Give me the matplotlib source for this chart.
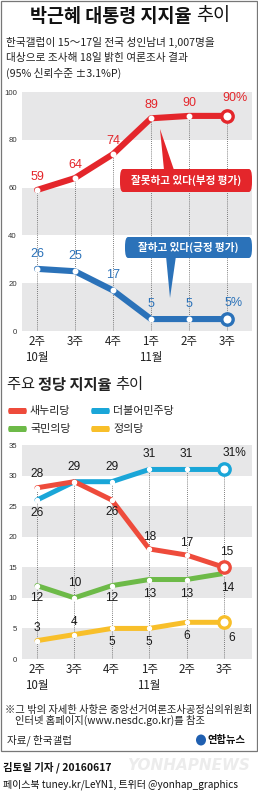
import matplotlib
matplotlib.use("Agg")
import matplotlib.pyplot as plt
from matplotlib.patches import FancyBboxPatch, Polygon, Rectangle, Ellipse

plt.rcParams['font.family'] = ['Noto Sans CJK KR', 'DejaVu Sans']

# ---------------- data ----------------
weeks = ["2주", "3주", "4주", "1주", "2주", "3주"]
months = {0: "10월", 3: "11월"}
negative = [59, 64, 74, 89, 90, 90]
positive = [26, 25, 17, 5, 5, 5]

parties = ["새누리당", "더불어민주당", "국민의당", "정의당"]
saenuri = [28, 29, 26, 18, 17, 15]
minjoo = [26, 29, 29, 31, 31, 31]
kukmin = [12, 10, 12, 13, 13, 14]
justice = [3, 4, 5, 5, 6, 6]

W, H = 258, 794
fig = plt.figure(figsize=(W / 100, H / 100), dpi=100)
renderer = fig.canvas.get_renderer()

def fx(x):
    return x / W

def fy(y):
    return 1 - y / H

def pt(px):
    return px * 0.72

RED = "#e4262b"
BLUE = "#2b72b9"
C_SAE = "#ee4b3b"
C_MIN = "#1aa6d8"
C_KUK = "#6dba48"
C_JUS = "#f8bf2a"
GRAY = "#e7e7e8"
TXT = "#222222"
NUMFONT = ['Liberation Sans', 'Noto Sans CJK KR']


def seq_text(x_px, y_px, parts, fontsize, color="#111111"):
    """Place text segments one after another starting at x_px."""
    x = x_px
    for s, weight in parts:
        t = fig.text(fx(x), fy(y_px), s, ha="left", va="center",
                     fontsize=fontsize, fontweight=weight, color=color)
        bb = t.get_window_extent(renderer)
        x += bb.width


# border
fig.add_artist(Rectangle((fx(1), fy(751)), fx(256), (751 - 0.5) / H,
                         transform=fig.transFigure, fill=False,
                         edgecolor="#777777", linewidth=0.9))

# titles
seq_text(30, 16, [("박근혜 대통령 지지율 ", "bold"), ("추이", "normal")], 13.3)
subs = ["한국갤럽이 15～17일 전국 성인남녀 1,007명을",
        "대상으로 조사해 18일 밝힌 여론조사 결과",
        "(95% 신뢰수준 ±3.1%P)"]
for i, s in enumerate(subs):
    fig.text(fx(6), fy(42 + i * 15.5), s, ha="left", va="center",
             fontsize=7.7, color=TXT)


def setup_axes(ax, ymax, step, bands, x0px, spacing):
    ax.set_ylim(0, ymax)
    left = -(x0px - 22) / spacing
    right = 5 + (252 - (x0px + 5 * spacing)) / spacing
    ax.set_xlim(left, right)
    for lo, hi in bands:
        ax.axhspan(lo, hi, color=GRAY, lw=0, zorder=0)
    for s in ax.spines.values():
        s.set_visible(False)
    ax.set_yticks(range(0, ymax + 1, step))
    ax.set_yticklabels([str(v) for v in range(0, ymax + 1, step)],
                       fontsize=5.6, color="#333333", family=NUMFONT)
    ax.tick_params(axis="y", length=0, pad=pt(5))
    ax.set_xticks(range(6))
    ax.set_xticklabels(weeks, fontsize=8.3, color=TXT)
    ax.tick_params(axis="x", length=0, pad=pt(4))
    for i, m in months.items():
        ax.annotate(m, xy=(i, 0), xycoords=("data", "axes fraction"),
                    xytext=(0, -pt(26)), textcoords="offset points",
                    ha="center", va="center", fontsize=8.3, color=TXT)
    ax.set_facecolor("none")


def draw_line(ax, vals, color, lw, ms_small, big_end=True):
    xs = list(range(len(vals)))
    ax.plot(xs, vals, color=color, lw=lw, solid_capstyle="round",
            solid_joinstyle="round", zorder=3)
    ax.plot(xs[:-1] if big_end else xs, vals[:-1] if big_end else vals,
            ls="none", marker="o", ms=ms_small, mfc="white", mec="white",
            zorder=4)
    if big_end:
        ax.plot([xs[-1]], [vals[-1]], ls="none", marker="o", ms=8.2,
                mfc="white", mec=color, mew=2.4, zorder=5)


def label(ax, i, v, text, dy_px, color, dx_px=0, fs=9):
    ax.annotate(text, xy=(i, v), xytext=(pt(dx_px), pt(-dy_px)),
                textcoords="offset points", ha="center", va="center",
                fontsize=fs, color=color, family=NUMFONT, zorder=6)


# ---------------- top chart ----------------
ax1 = fig.add_axes([fx(22), fy(331), fx(230), 239 / H])
setup_axes(ax1, 100, 20, [(0, 20), (40, 60), (80, 100)], 37, 38)
for i, v in enumerate(negative):
    ax1.plot([i, i], [0, v], ls=(0, (1, 1.5)), color="#555555", lw=0.6, zorder=1)
draw_line(ax1, negative, RED, 4.4, 3.2)
draw_line(ax1, positive, BLUE, 4.4, 3.2)
for i, v in enumerate(negative):
    if i == 5:
        label(ax1, i, v, f"{v}%", -18, RED, dx_px=8)
    else:
        label(ax1, i, v, str(v), -13, RED)
for i, v in enumerate(positive):
    if i == 5:
        label(ax1, i, v, f"{v}%", -16, BLUE, dx_px=7)
    else:
        label(ax1, i, v, str(v), -15, BLUE)

# callouts
def callout(x0, y0, x1, y1, tip, base, color, text):
    fig.add_artist(FancyBboxPatch((fx(x0), fy(y1)), fx(x1 - x0), (y1 - y0) / H,
                                  boxstyle="round,pad=0,rounding_size=0.012",
                                  transform=fig.transFigure, facecolor=color,
                                  edgecolor="none", zorder=7))
    fig.add_artist(Polygon([(fx(tip[0]), fy(tip[1])),
                            (fx(base[0]), fy(base[2])),
                            (fx(base[1]), fy(base[2]))],
                           closed=True, transform=fig.transFigure,
                           facecolor=color, edgecolor="none", zorder=7))
    fig.text(fx((x0 + x1) / 2), fy((y0 + y1) / 2), text, ha="center",
             va="center", fontsize=7.6, fontweight="bold", color="white",
             zorder=8)

callout(120, 169, 252, 192, (160, 129), (164, 174, 170), RED,
        "잘못하고 있다(부정 평가)")
callout(125, 237, 252, 258, (170, 298), (166, 176, 256), BLUE,
        "잘하고 있다(긍정 평가)")

# ---------------- second title + legend ----------------
seq_text(7, 385, [("주요 ", "normal"), ("정당 지지율 ", "bold"), ("추이", "normal")],
         11, color=TXT)

leg_colors = [C_SAE, C_MIN, C_KUK, C_JUS]
leg_pos = [(8, 411), (91, 411), (8, 429), (91, 429)]
for name, col, (lx, ly) in zip(parties, leg_colors, leg_pos):
    fig.add_artist(FancyBboxPatch((fx(lx), fy(ly + 3)), fx(19), 6 / H,
                                  boxstyle="round,pad=0,rounding_size=0.006",
                                  transform=fig.transFigure, facecolor=col,
                                  edgecolor="none"))
    fig.text(fx(lx + 22), fy(ly), name, ha="left", va="center", fontsize=7.9,
             color=TXT)

# ---------------- bottom chart ----------------
ax2 = fig.add_axes([fx(22), fy(659), fx(230), 214 / H])
setup_axes(ax2, 35, 5, [(0, 5), (10, 15), (20, 25), (30, 35)], 37, 37.4)
tops = [max(a, b, c, d) for a, b, c, d in zip(saenuri, minjoo, kukmin, justice)]
for i, v in enumerate(tops):
    ax2.plot([i, i], [0, v], ls=(0, (1, 1.5)), color="#555555", lw=0.6, zorder=1)
draw_line(ax2, justice, C_JUS, 3.6, 2.8)
draw_line(ax2, kukmin, C_KUK, 3.6, 2.8, big_end=False)
draw_line(ax2, minjoo, C_MIN, 3.6, 2.8)
draw_line(ax2, saenuri, C_SAE, 3.6, 2.8)

BL = "#1a1a1a"
sae_dy = [-14, -15, 12, -12, -12, -15]
min_dy = [13, None, -15, -15, -15, -16]
kuk_dy = [12, -15, 12, 14, 14, 15]
jus_dy = [-13, -13, 14, 14, 14, 16]
for i, v in enumerate(saenuri):
    label(ax2, i, v, str(v), sae_dy[i], BL, dx_px=3 if i == 5 else 0, fs=8.6)
for i, v in enumerate(minjoo):
    if min_dy[i] is None:
        continue
    if i == 5:
        label(ax2, i, v, f"{v}%", min_dy[i], BL, dx_px=10, fs=8.6)
    else:
        label(ax2, i, v, str(v), min_dy[i], BL, fs=8.6)
for i, v in enumerate(kukmin):
    label(ax2, i, v, str(v), kuk_dy[i], BL, dx_px=4 if i == 5 else 0, fs=8.6)
for i, v in enumerate(justice):
    label(ax2, i, v, str(v), jus_dy[i], BL, dx_px=8 if i == 5 else 0, fs=8.6)

# ---------------- footer ----------------
fig.text(fx(5), fy(710), "※그 밖의 자세한 사항은 중앙선거여론조사공정심의위원회",
         ha="left", va="center", fontsize=7.4, color=TXT, style="italic")
fig.text(fx(15), fy(720), "인터넷 홈페이지(www.nesdc.go.kr)를 참조",
         ha="left", va="center", fontsize=7.4, color=TXT, style="italic")
fig.text(fx(7), fy(740), "자료/ 한국갤럽", ha="left", va="center",
         fontsize=7.6, color=TXT, style="italic")
fig.add_artist(Ellipse((fx(201), fy(740)), fx(10), 11 / H,
                       transform=fig.transFigure, facecolor="#1f5fb0",
                       edgecolor="none"))
fig.text(fx(207), fy(740), "연합뉴스", ha="left", va="center", fontsize=7.4,
         fontweight="bold", color="#111111")

fig.text(fx(250), fy(765), "YONHAPNEWS", ha="right", va="center",
         fontsize=11, fontweight="bold", style="italic", color="#ececec",
         family=['DejaVu Sans'])
fig.text(fx(3), fy(767), "김토일 기자 / 20160617", ha="left", va="center",
         fontsize=7.5, fontweight="bold", color="#111111")
fig.text(fx(3), fy(785), "페이스북 tuney.kr/LeYN1, 트위터 @yonhap_graphics",
         ha="left", va="center", fontsize=7.2, color="#111111")

fig.savefig("out.png", dpi=100)
